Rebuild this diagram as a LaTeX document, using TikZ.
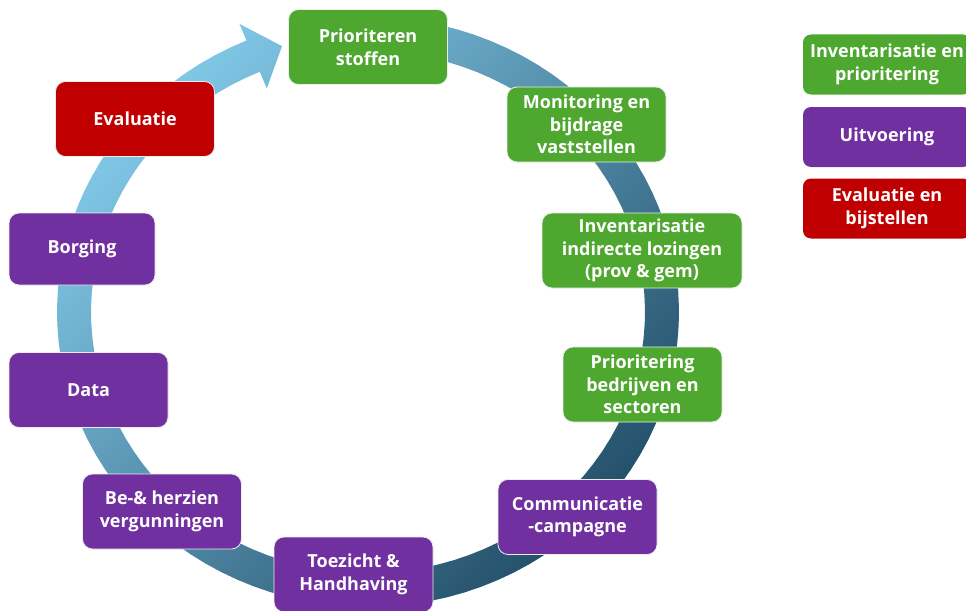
\documentclass[tikz,border=0pt]{standalone}
\usepackage{fontspec}
\setmainfont{Open Sans}
\definecolor{groen}{HTML}{4EA72E}
\definecolor{paars}{HTML}{7030A0}
\definecolor{rood}{HTML}{C00000}
\definecolor{ringlicht}{HTML}{80C7E6}
\definecolor{ringdonker}{HTML}{24506A}
\tikzset{blok/.style={rounded corners=7.5pt, draw=white!85!gray, line width=0.6pt, text=white, align=center, font=\fontsize{13.5}{16.9}\selectfont\bfseries, minimum width=119.25pt, minimum height=56.25pt, inner sep=2pt},
legenda/.style={blok, draw=none, rounded corners=6pt, minimum width=126pt, minimum height=45pt}}

\begin{document}
\begin{tikzpicture}[x=0.75pt, y=-0.75pt]
	\useasboundingbox (0,0) rectangle (966,610);
	%Ring
	\shade[top color=ringlicht, bottom color=ringdonker, shading angle=45]
		plot[domain=-80:247, samples=100] ({368+311*cos(\x)},{312+295*sin(\x)})
		-- ({368+329*cos(247)},{312+313*sin(247)})
		-- ({368+294*cos(253)},{312+278*sin(253)})
		-- ({368+259*cos(247)},{312+243*sin(247)})
		-- plot[domain=247:-80, samples=100] ({368+277*cos(\x)},{312+261*sin(\x)}) -- cycle;
	%Inventarisatie
	\node[blok, fill=groen] (prio) at (368,47) {Prioriteren\\stoffen};
	\node[blok, fill=groen] (monitor) at (586.5,124.5) {Monitoring en\\bijdrage\\vaststellen};
	\node[blok, fill=groen, minimum width=150pt] (invent) at (642,250.5) {Inventarisatie\\indirecte lozingen\\(prov \& gem)};
	\node[blok, fill=groen] (priobedr) at (642.5,384.5) {Prioritering\\bedrijven en\\sectoren};
	%Uitvoering
	\node[blok, fill=paars] (comm) at (577.5,517) {Communicatie\\-campagne};
	\node[blok, fill=paars] (toezicht) at (353.5,574.5) {Toezicht \&\\Handhaving};
	\node[blok, fill=paars] (vergun) at (162,511.5) {Be-\& herzien\\vergunningen};
	\node[blok, fill=paars] (data) at (88.5,390) {Data};
	\node[blok, fill=paars, minimum width=109.5pt, minimum height=54pt] (borging) at (82,249) {Borging};
	%Evaluatie
	\node[blok, fill=rood] (eval) at (135,119) {Evaluatie};
	%Legenda
	\node[legenda, fill=groen] (leginv) at (887,64.5) {Inventarisatie en\\prioritering};
	\node[legenda, fill=paars] (leguit) at (887,137) {Uitvoering};
	\node[legenda, fill=rood] (legeval) at (887,208.5) {Evaluatie en\\bijstellen};
\end{tikzpicture}
\end{document}
